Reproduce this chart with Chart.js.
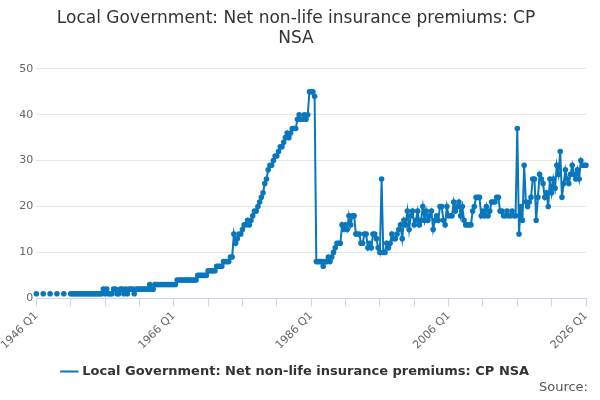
<!DOCTYPE html>
<html>
<head>
<meta charset="utf-8">
<script src="https://cdn.jsdelivr.net/npm/chart.js@4"></script>
<style>
  body { margin: 0; background: #fff; font-family: "DejaVu Sans", sans-serif; }
  #wrap { position: relative; width: 600px; height: 400px; }
  #src { position: absolute; right: 12px; bottom: 6px; font-size: 13px; color: #555; }
</style>
</head>
<body>
<div id="wrap">
  <canvas id="chart" width="600" height="400"></canvas>
  <div id="src">Source:</div>
</div>
<script>
// Tahun pertama dan terakhir
const firstYear = 1946;
const lastYear = 2026;

// Nilai per kuartal (Q1..Q4), null = tidak ada data
const values = [
  1,null,null,null, 1,null,null,null, 1,null,null,null, 1,null,null,null, 1,null,null,null, // 1946-1950
  1,1,1,1, 1,1,1,1, 1,1,1,1, 1,1,1,1, 1,1,1,2, // 1951-1955
  1,2,1,1, 1,2,2,1, 1,2,2,1, 2,1,2,2, 2,1,2,2, // 1956-1960
  2,2,2,2, 2,2,3,2, 2,3,3,3, 3,3,3,3, 3,3,3,3, // 1961-1965
  3,3,4,4, 4,4,4,4, 4,4,4,4, 4,4,5,5, 5,5,5,5, // 1966-1970
  6,6,6,6, 6,7,7,7, 7,8,8,8, 8,9,9,14, 12,13,14,14, // 1971-1975
  15,16,16,17, 16,17,18,19, 19,20,21,22, 23,25,26,28, 29,29,30,31, // 1976-1980
  31,32,33,33, 34,35,36,35, 36,37,37,37, 39,40,39,39, 40,39,40,45, // 1981-1985
  45,45,44,8, 8,8,8,7, 8,8,9,8, 9,10,11,12, 12,12,16,15, // 1986-1990
  16,15,18,16, 18,18,14,14, 14,12,12,14, 14,11,12,11, 14,14,13,11, // 1991-1995
  10,26,10,10, 12,11,12,14, 13,13,14,15, 16,13,17,16, 19,15,18,19, // 1996-2000
  16,17,19,16, 17,20,17,19, 17,18,19,15, 17,18,17,20, 20,17,16,20, // 2001-2005
  18,18,18,21, 19,20,21,18, 20,17,16,16, 16,16,19,20, 22,22,22,18, // 2006-2010
  19,18,20,18, 19,21,21,21, 22,22,19,19, 18,18,19,18, 18,19,18,18, // 2011-2015
  37,14,20,17, 29,21,20,21, 22,26,26,17, 22,27,26,25, 22,23,20,26, // 2016-2020
  23,26,24,29, 27,32,22,25, 28,26,25,27, 29,27,26,28, 26,30,29,29, // 2021-2025
  29 // 2026 Q1
];

// Label kuartal
const labels = [];
for (let y = firstYear; y <= lastYear; y++) {
  for (let q = 1; q <= 4; q++) {
    if (y === lastYear && q > 1) break;
    labels.push(`${y} Q${q}`);
  }
}

const lineColor = '#0a77bd';

const ctx = document.getElementById('chart').getContext('2d');
new Chart(ctx, {
  type: 'line',
  data: {
    labels: labels,
    datasets: [{
      label: 'Local Government: Net non-life insurance premiums: CP NSA',
      data: values,
      borderColor: lineColor,
      backgroundColor: lineColor,
      borderWidth: 2,
      pointRadius: 1.8,
      pointHoverRadius: 3,
      spanGaps: false,
      tension: 0
    }]
  },
  options: {
    responsive: false,
    animation: false,
    layout: { padding: { left: 6, right: 14, bottom: 12 } },
    plugins: {
      title: {
        display: true,
        text: ['Local Government: Net non-life insurance premiums: CP', 'NSA'],
        color: '#333',
        font: { family: 'DejaVu Sans', size: 17, weight: 'normal' },
        padding: { top: 8, bottom: 20 }
      },
      legend: {
        position: 'bottom',
        labels: {
          color: '#333',
          font: { family: 'DejaVu Sans', size: 13, weight: 'bold' },
          usePointStyle: true,
          pointStyle: 'line',
          boxWidth: 30
        }
      }
    },
    scales: {
      x: {
        afterBuildTicks: axis => {
          axis.ticks = axis.ticks.filter(t => t.value % 20 === 0);
        },
        ticks: {
          autoSkip: false,
          maxRotation: 45,
          minRotation: 45,
          color: '#666',
          font: { family: 'DejaVu Sans', size: 11 },
          callback: function (v) { return v % 80 === 0 ? labels[v] : ''; }
        },
        grid: { drawOnChartArea: false, color: '#ccd6eb', tickLength: 8 },
        border: { color: '#ccd6eb' }
      },
      y: {
        min: 0,
        max: 50,
        ticks: { stepSize: 10, color: '#666', font: { family: 'DejaVu Sans', size: 11 } },
        grid: { color: '#e6e6e6', drawTicks: false },
        border: { display: false }
      }
    }
  }
});
</script>
</body>
</html>
